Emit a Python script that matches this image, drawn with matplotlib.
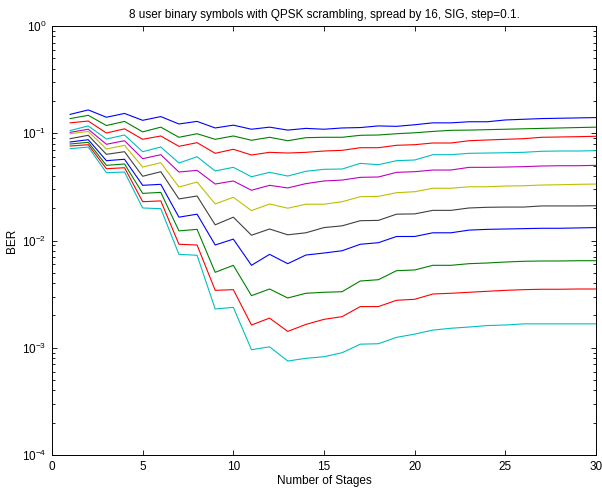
import numpy as np
import matplotlib
matplotlib.use("Agg")
import matplotlib.pyplot as plt
from matplotlib.ticker import LogLocator, NullFormatter

plt.rcParams['font.family'] = ['Liberation Sans', 'DejaVu Sans']
plt.rcParams['mathtext.fontset'] = 'custom'
plt.rcParams['mathtext.rm'] = 'Liberation Sans'
plt.rcParams['mathtext.it'] = 'Liberation Sans'

stages = np.arange(1, 31)

# BER per curve, top curve first
ber_1 = [0.150, 0.165, 0.141, 0.153, 0.132, 0.143, 0.122, 0.129, 0.112, 0.119,
         0.109, 0.114, 0.107, 0.111, 0.109, 0.112, 0.113, 0.117, 0.116, 0.120,
         0.125, 0.125, 0.128, 0.128, 0.133, 0.135, 0.137, 0.138, 0.139, 0.140]
ber_2 = [0.137, 0.147, 0.118, 0.129, 0.103, 0.114, 0.0917, 0.0990, 0.0878, 0.0943,
         0.0860, 0.0917, 0.0852, 0.0909, 0.0917, 0.0917, 0.0957, 0.0963, 0.0990, 0.101,
         0.104, 0.1065, 0.107, 0.108, 0.109, 0.110, 0.111, 0.112, 0.113, 0.114]
ber_3 = [0.125, 0.130, 0.1005, 0.110, 0.0878, 0.0943, 0.0755, 0.0817, 0.0650, 0.0709,
         0.0627, 0.0664, 0.0654, 0.0664, 0.0683, 0.0693, 0.0733, 0.0733, 0.0772, 0.0782,
         0.0811, 0.0811, 0.0852, 0.0865, 0.0878, 0.0890, 0.0917, 0.0923, 0.0929, 0.0937]
ber_4 = [0.106, 0.117, 0.0884, 0.0963, 0.0673, 0.0744, 0.0528, 0.0604, 0.0445, 0.0481,
         0.0393, 0.0432, 0.0399, 0.0442, 0.0461, 0.0464, 0.0524, 0.0509, 0.0555, 0.0563,
         0.0631, 0.0631, 0.0650, 0.0654, 0.0658, 0.0664, 0.0679, 0.0683, 0.0683, 0.0688]
ber_5 = [0.102, 0.109, 0.0789, 0.0852, 0.0579, 0.0631, 0.0435, 0.0451, 0.0336, 0.0359,
         0.0294, 0.0327, 0.0309, 0.0339, 0.0359, 0.0366, 0.0388, 0.0391, 0.0432, 0.0438,
         0.0454, 0.0454, 0.0481, 0.0481, 0.0484, 0.0488, 0.0495, 0.0498, 0.0498, 0.0502]
ber_6 = [0.0990, 0.104, 0.0713, 0.0772, 0.0484, 0.0531, 0.0315, 0.0351, 0.0219, 0.0253,
         0.0190, 0.0219, 0.0200, 0.0218, 0.0218, 0.0230, 0.0256, 0.0258, 0.0279, 0.0285,
         0.0307, 0.0307, 0.0317, 0.0317, 0.0322, 0.0324, 0.0329, 0.0331, 0.0334, 0.0336]
ber_7 = [0.0890, 0.0957, 0.0636, 0.0673, 0.0397, 0.0438, 0.0244, 0.0260, 0.0140, 0.0165,
         0.0112, 0.0128, 0.0113, 0.0118, 0.0132, 0.0137, 0.0153, 0.0154, 0.0176, 0.0177,
         0.0191, 0.0191, 0.0201, 0.0204, 0.0205, 0.0205, 0.0210, 0.0210, 0.0210, 0.0211]
ber_8 = [0.0829, 0.0871, 0.0555, 0.0572, 0.0327, 0.0334, 0.0165, 0.0176, 0.00908, 0.0103,
         0.00587, 0.00743, 0.00608, 0.00732, 0.00764, 0.00803, 0.00922, 0.00954, 0.0109, 0.0109,
         0.0118, 0.0118, 0.0125, 0.0127, 0.0128, 0.0129, 0.0130, 0.0130, 0.0131, 0.0132]
ber_9 = [0.0794, 0.0823, 0.0502, 0.0517, 0.0275, 0.0281, 0.0123, 0.0127, 0.00505, 0.00587,
         0.00306, 0.00353, 0.00291, 0.00322, 0.00329, 0.00333, 0.00419, 0.00431, 0.00523, 0.00531,
         0.00587, 0.00587, 0.00608, 0.00617, 0.00630, 0.00640, 0.00644, 0.00644, 0.00648, 0.00648]
ber_10 = [0.0760, 0.0782, 0.0467, 0.0477, 0.0230, 0.0234, 0.00922, 0.00908, 0.00343, 0.00348,
          0.00163, 0.00189, 0.00142, 0.00165, 0.00184, 0.00195, 0.00242, 0.00242, 0.00277, 0.00283,
          0.00317, 0.00322, 0.00329, 0.00336, 0.00343, 0.00348, 0.00351, 0.00351, 0.00353, 0.00353]
ber_11 = [0.0718, 0.0744, 0.0429, 0.0435, 0.0201, 0.0198, 0.00743, 0.00728, 0.00230, 0.00238,
          0.000959, 0.00102, 0.000752, 0.000797, 0.000825, 0.000899, 0.00108, 0.00109, 0.00125, 0.00134,
          0.00146, 0.00152, 0.00156, 0.00161, 0.00163, 0.00167, 0.00167, 0.00167, 0.00167, 0.00167]

curves = [ber_1, ber_2, ber_3, ber_4, ber_5, ber_6, ber_7, ber_8, ber_9, ber_10, ber_11]

# old matlab colour order b g r c m y k
matlab_colors = [(0, 0, 1), (0, 0.5, 0), (1, 0, 0), (0, 0.75, 0.75),
                 (0.75, 0, 0.75), (0.75, 0.75, 0), (0.25, 0.25, 0.25)]

fig = plt.figure(figsize=(6.02, 4.92), dpi=100)
ax = fig.add_axes([52 / 602, 37 / 492, 544 / 602, 429 / 492])

for i, ber in enumerate(curves):
    ax.semilogy(stages, ber, color=matlab_colors[i % 7], linewidth=0.8)

ax.set_xlim(0, 30)
ax.set_ylim(1e-4, 1)
ax.set_xticks(np.arange(0, 31, 5))
ax.yaxis.set_major_locator(LogLocator(base=10, numticks=10))
ax.yaxis.set_minor_locator(LogLocator(base=10, subs=np.arange(2, 10), numticks=10))
ax.yaxis.set_minor_formatter(NullFormatter())

ax.tick_params(which='both', direction='in', top=True, right=True,
               labelsize=8.5, width=0.6, pad=4)
ax.tick_params(which='major', length=3.6)
ax.tick_params(which='minor', length=2.2)
for spine in ax.spines.values():
    spine.set_linewidth(0.7)

ax.set_title('8 user binary symbols with QPSK scrambling, spread by 16, SIG, step=0.1.',
             fontsize=8.5, pad=6)
ax.set_xlabel('Number of Stages', fontsize=8.5, labelpad=2)
ax.set_ylabel('BER', fontsize=8.5, labelpad=3)

fig.savefig('out.png', dpi=100)
